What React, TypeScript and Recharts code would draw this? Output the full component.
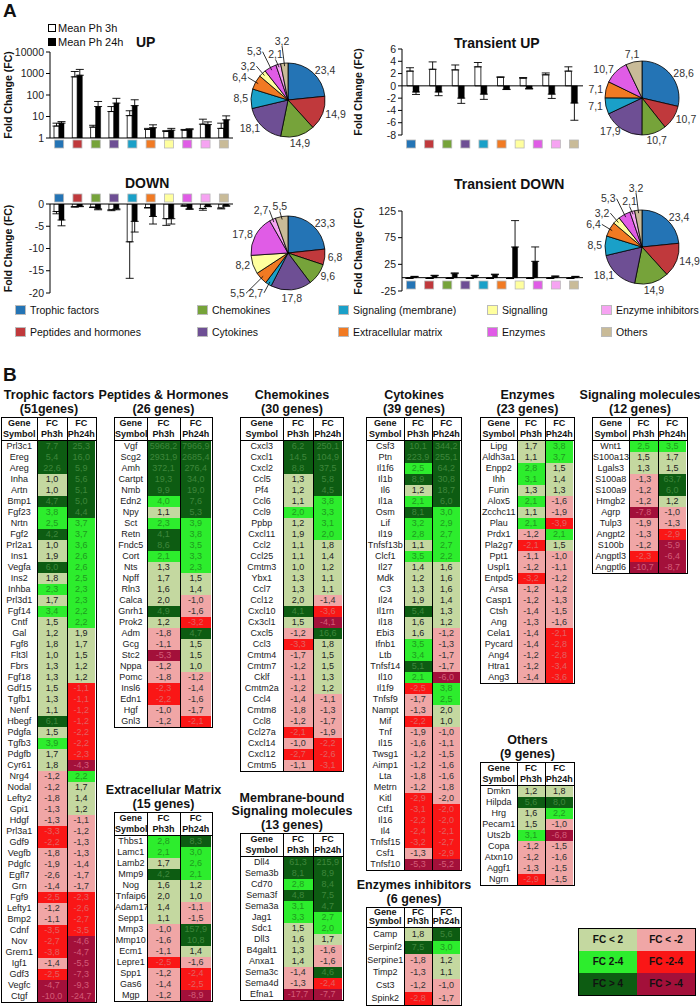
import React from 'react';
import { BarChart, Bar, XAxis, YAxis, ErrorBar, ReferenceLine, PieChart, Pie, Cell } from 'recharts';

const FONT = '"Liberation Sans", Arial, Helvetica, sans-serif';

// ---------- Panel A ----------
const groupNames = [
  'Trophic factors', 'Peptides and hormones', 'Chemokines', 'Cytokines', 'Signaling (membrane)',
  'Extracellular matrix', 'Signalling', 'Enzymes', 'Enzyme inhibitors', 'Others',
];
const groupColors = ['#2474b5', '#c0393c', '#76a33a', '#6e4f94', '#1aa0c8', '#f17a23', '#ffff9e', '#e05ce6', '#f6a3f2', '#c9bb98'];

// UP (log axis)
const upPh3h = [3.6, 700, 3.2, 17, 11, 2.5, 2.0, 2.3, 4.4, 2.8];
const upPh24h = [4.9, 830, 29, 42, 32, 3.0, 2.3, 2.45, 4.2, 7.0];
const upErr3h = [1.3, 540, 0.7, 12, 7.5, 0.3, 0.2, 0.2, 3.1, 2.1];
const upErr24h = [0.9, 720, 21, 28, 28, 1.1, 0.5, 0.25, 1.4, 3.7];
const upShare = [23.4, 14.9, 14.9, 18.1, 8.5, 6.4, 3.2, 5.3, 2.1, 3.2];

// Transient UP
const tuGroups = [0, 1, 2, 3, 4, 5, 7, 9];
const tuPh3h = [2.4, 2.7, 2.6, 3.1, 1.4, 1.25, 1.8, 2.4];
const tuPh24h = [-1.0, -1.0, -2.0, -1.35, -0.55, -0.45, -1.35, -2.8];
const tuErr3h = [0.55, 1.2, 0.8, 0.7, 0.05, 0.1, 0.3, 0.7];
const tuErr24h = [0.4, 0.6, 0.85, 0.85, 0.05, 0.05, 0.7, 2.8];
const tuShare = [28.6, 10.7, 10.7, 17.9, 7.1, 7.1, 10.7, 7.1];

// DOWN
const dnPh3h = [-1.7, -0.6, -0.7, -1.3, -8.5, -0.8, -3.3, -0.4, -1.0, -0.9];
const dnPh24h = [-3.6, -0.5, -1.1, -1.1, -3.9, -2.8, -3.3, -1.1, -0.5, -0.4];
const dnErr3h = [0.5, 0.1, 0.1, 0.2, 8.2, 0.1, 1.5, 0.1, 0.4, 0.2];
const dnErr24h = [1.3, 0.1, 0.2, 0.2, 2.4, 1.7, 1.2, 0.1, 0.1, 0.1];
const dnShare = [23.3, 6.8, 9.6, 17.8, 2.7, 5.5, 8.2, 17.8, 2.7, 5.5];

// Transient DOWN
const tdGroups = [0, 1, 2, 3, 4, 5, 6, 7, 8];
const tdPh3h = [-1.2, -1.5, -1.3, -1.2, -1.4, -1.6, -1.3, -1.2, -1.3];
const tdPh24h = [2.0, 3.7, 7.5, 3.7, 5.6, 57.5, 30.6, 2.5, 2.0];
const tdErr3h = [0, 0, 0, 0, 0, 0, 0, 0, 0];
const tdErr24h = [0.5, 0.8, 1.5, 0.8, 1.0, 49.5, 27, 0.6, 0.5];
const tdShare = [23.4, 14.9, 14.9, 18.1, 8.5, 6.4, 3.2, 5.3, 2.1, 3.2];

// ---------- Panel B ----------
const trophicGenes = ['Prl3c1', 'Ereg', 'Areg', 'Inha', 'Artn', 'Bmp1', 'Fgf23', 'Nrtn', 'Fgf2', 'Prl2a1', 'Ins1', 'Vegfa', 'Ins2', 'Inhba', 'Prl3d1', 'Fgf14', 'Cntf', 'Gal', 'Fgf8', 'Flt3l', 'Fbrs', 'Fgf18', 'Gdf15', 'Tgfb1', 'Nenf', 'Hbegf', 'Pdgfa', 'Tgfb3', 'Pdgfb', 'Cyr61', 'Nrg4', 'Nodal', 'Lefty2', 'Gpi1', 'Hdgf', 'Prl3a1', 'Gdf9', 'Vegfb', 'Pdgfc', 'Egfl7', 'Grn', 'Fgf9', 'Lefty1', 'Bmp2', 'Cdnf', 'Nov', 'Grem1', 'Igf1', 'Gdf3', 'Vegfc', 'Ctgf'];
const trophicPh3h = [7.7, 5.4, 22.6, 1.0, 1.0, 4.7, 3.8, 2.5, 4.2, 1.0, 1.9, 6.0, 1.8, 2.3, 1.7, 3.4, 1.5, 1.2, 1.8, 1.0, 1.3, 1.3, 1.5, 1.3, 1.1, 6.1, 1.5, 3.9, 1.7, 1.8, -1.2, -1.2, -1.8, -1.3, -1.3, -3.3, -2.2, -1.8, -1.9, -2.6, -1.4, -2.5, -1.2, -1.1, -3.5, -2.7, -3.8, -1.4, -2.5, -4.7, -10.0];
const trophicPh24h = [25.3, 16.0, 5.9, 5.6, 5.1, 5.0, 4.4, 3.7, 3.7, 3.6, 2.6, 2.6, 2.5, 2.3, 2.3, 2.2, 2.2, 1.9, 1.7, 1.5, 1.2, 1.2, -1.1, -1.1, -1.2, -1.2, -2.2, -2.2, -2.3, -4.3, 2.2, 1.7, 1.4, 1.2, -1.1, -1.2, -1.3, -1.3, -1.4, -1.7, -1.7, -2.3, -2.6, -2.7, -3.5, -4.6, -4.7, -5.5, -7.3, -9.3, -24.7];

const peptideGenes = ['Vgf', 'Scg2', 'Amh', 'Cartpt', 'Nmb', 'Edn2', 'Npy', 'Sct', 'Retn', 'Fndc5', 'Cort', 'Nts', 'Npff', 'Rln3', 'Calca', 'Gnrh1', 'Prok2', 'Adm', 'Gcg', 'Stc2', 'Nppa', 'Pomc', 'Insl6', 'Edn1', 'Hgf', 'Gnl3'];
const peptidePh3h = [5968.2, 2931.9, 372.1, 19.3, 9.9, 3.97, 1.1, 2.3, 4.1, 8.6, 2.1, 1.3, 1.7, 1.6, 1.97, 4.9, 1.2, -1.8, -1.1, -5.3, -1.2, -1.8, -2.3, -2.2, -1.0, -1.2];
const peptidePh24h = [7966.9, 2685.4, 276.4, 34.0, 19.0, 7.6, 5.3, 3.9, 3.8, 3.5, 3.3, 2.3, 1.5, 1.4, -1.0, -1.6, -3.2, 4.7, 1.5, 1.5, 1.0, -1.2, -1.4, -1.6, -1.7, -2.1];

const ecmGenes = ['Thbs1', 'Lamc1', 'Lamb2', 'Mmp9', 'Nog', 'Tnfaip6', 'Adam17', 'Sepp1', 'Mmp3', 'Mmp10', 'Ecm1', 'Lepre1', 'Spp1', 'Gas6', 'Mgp'];
const ecmPh3h = [2.8, 2.1, 1.7, 4.2, 1.6, 1.97, 1.4, 1.1, -1.0, -1.6, -1.1, -2.5, -1.2, -1.4, -1.2];
const ecmPh24h = [8.3, 3.0, 2.6, 2.1, 1.2, 1.0, -1.1, -1.5, 157.9, 10.8, 1.4, -1.6, -2.4, -2.5, -8.9];

const chemoGenes = ['Cxcl3', 'Cxcl1', 'Cxcl2', 'Ccl5', 'Pf4', 'Ccl6', 'Ccl9', 'Ppbp', 'Cxcl11', 'Ccl2', 'Ccl25', 'Cmtm3', 'Ybx1', 'Ccl7', 'Ccl12', 'Cxcl10', 'Cx3cl1', 'Cxcl5', 'Ccl3', 'Cmtm4', 'Cmtm7', 'Cklf', 'Cmtm2a', 'Ccl4', 'Cmtm8', 'Ccl8', 'Ccl27a', 'Cxcl14', 'Cxcl12', 'Cmtm5'];
const chemoPh3h = [6.2, 14.5, 8.8, 1.3, 1.2, 1.1, 2.0, 1.2, 1.9, 1.1, 1.1, 1.0, 1.3, 1.3, 1.97, 4.1, 1.5, -1.2, -3.3, -1.7, -1.2, -1.1, -1.2, -1.4, -1.8, -1.2, -2.1, -1.0, -2.7, -1.1];
const chemoPh24h = [250.1, 104.9, 37.5, 5.8, 4.5, 3.8, 3.3, 3.1, 2.0, 1.8, 1.4, 1.2, 1.1, 1.1, -1.4, -3.6, -4.1, 16.6, 1.8, 1.5, 1.5, 1.3, 1.2, -1.1, -1.3, -1.7, -1.9, -2.2, -2.6, -3.1];

const membraneGenes = ['Dll4', 'Sema3b', 'Cd70', 'Sema3f', 'Sema3a', 'Jag1', 'Sdc1', 'Dll3', 'B4galt1', 'Anxa1', 'Sema3c', 'Sema4d', 'Efna1'];
const membranePh3h = [61.3, 8.1, 2.8, 4.8, 3.1, 3.3, 1.5, 1.6, 1.3, 1.4, -1.4, -1.3, -17.7];
const membranePh24h = [215.9, 8.9, 8.4, 7.5, 4.7, 2.7, 2.0, 1.7, -1.6, -1.6, 4.6, -2.4, -7.7];

const cytoGenes = ['Csf3', 'Ptn', 'Il1f6', 'Il1b', 'Il6', 'Il1a', 'Osm', 'Lif', 'Il19', 'Tnfsf13b', 'Clcf1', 'Il27', 'Mdk', 'C3', 'Il24', 'Il1rn', 'Il18', 'Ebi3', 'Ifnb1', 'Ltb', 'Tnfsf14', 'Il10', 'Il1f9', 'Tnfsf9', 'Nampt', 'Mif', 'Tnf', 'Il15', 'Twsg1', 'Aimp1', 'Lta', 'Metrn', 'Kitl', 'Ctf1', 'Il16', 'Il4', 'Tnfsf15', 'Csf1', 'Tnfsf10'];
const cytoPh3h = [10.1, 223.9, 2.5, 8.9, 1.2, 2.1, 8.1, 3.2, 2.8, 1.1, 3.5, 1.4, 1.2, 1.3, 1.9, 5.4, 1.6, 1.6, 3.5, 3.4, 5.1, 2.1, -2.5, -1.7, -1.3, -2.2, -1.9, -1.6, -1.2, -1.2, -1.8, -1.2, -2.9, -3.1, -2.2, -2.4, -3.2, -1.3, -5.3];
const cytoPh24h = [344.2, 255.1, 64.2, 30.8, 18.7, 6.0, 3.0, 2.9, 2.7, 2.7, 2.2, 1.6, 1.6, 1.6, 1.4, 1.3, 1.2, -1.2, -1.3, -1.7, -1.7, -6.0, 3.8, 2.5, 1.97, 1.0, -1.0, -1.1, -1.5, -1.6, -1.6, -1.8, -1.97, -2.0, -2.0, -2.1, -2.7, -2.9, -5.2];

const inhibGenes = ['Camp', 'Serpinf2', 'Serpine1', 'Timp2', 'Cst3', 'Spink2'];
const inhibPh3h = [1.8, 7.5, -1.8, -1.3, -1.2, -2.8];
const inhibPh24h = [5.6, 3.0, 1.2, 1.1, -1.0, -1.7];

const enzymeGenes = ['Lipg', 'Aldh3a1', 'Enpp2', 'Ihh', 'Furin', 'Alox5', 'Zcchc11', 'Plau', 'Prdx1', 'Pla2g7', 'Ppt1', 'Uspl1', 'Entpd5', 'Arsa', 'Casp1', 'Ctsh', 'Ang', 'Cela1', 'Pycard', 'Ang4', 'Htra1', 'Ang3'];
const enzymePh3h = [1.7, 1.1, 2.8, 3.1, 1.3, 2.1, 1.1, 2.1, -1.2, -2.1, -1.1, -1.2, -3.2, -1.2, -1.2, -1.4, -1.3, -1.4, -1.4, -1.2, -1.2, -1.4];
const enzymePh24h = [3.8, 3.7, 1.5, 1.4, 1.3, -1.6, -1.9, -3.9, 2.1, 1.5, -1.0, -1.1, -1.2, -1.2, -1.3, -1.5, -1.6, -2.1, -2.8, -2.8, -3.4, -3.6];

const otherGenes = ['Dmkn', 'Hilpda', 'Hrg', 'Pecam1', 'Uts2b', 'Copa', 'Atxn10', 'Aggf1', 'Ngrn'];
const otherPh3h = [1.2, 5.6, 1.6, 1.5, 3.1, -1.2, -1.2, -1.3, -2.9];
const otherPh24h = [1.8, 8.0, 2.2, -1.0, -6.8, -1.5, -1.6, -1.5, -1.5];

const signalGenes = ['Wnt1', 'S100a13', 'Lgals3', 'S100a8', 'S100a9', 'Hmgb2', 'Agrp', 'Tulp3', 'Angpt2', 'S100b', 'Angptl3', 'Angptl6'];
const signalPh3h = [2.5, 1.5, 1.3, -1.3, -1.2, -1.2, -7.8, -1.9, -1.3, -1.2, -2.3, -10.7];
const signalPh24h = [3.5, 1.7, 1.5, 63.7, 6.0, 1.2, -1.0, -1.3, -2.9, -5.9, -6.4, -8.7];

type Bin = 'dg' | 'bg' | 'lg' | 'pk' | 'rd' | 'dr';
// cells whose published colour class differs from the printed value
const binOverrides: Record<string, Bin> = {
  'Egfl7:3': 'pk', 'Gdf15:24': 'rd', 'Tgfb1:24': 'rd', 'Nenf:24': 'rd', 'Hbegf:24': 'rd',
};
const fcLegend: [string, Bin][][] = [
  [['FC < 2', 'lg'], ['FC < -2', 'pk']],
  [['FC 2-4', 'bg'], ['FC -2-4', 'rd']],
  [['FC > 4', 'dg'], ['FC > -4', 'dr']],
];

const binStyle: Record<Bin, { bg: string; fg: string }> = {
  dg: { bg: '#0d5c12', fg: '#3f873c' },
  bg: { bg: '#2ded2d', fg: '#1f9a1f' },
  lg: { bg: '#c4d8a0', fg: '#222' },
  pk: { bg: '#f0a6a6', fg: '#333' },
  rd: { bg: '#fa1616', fg: '#e26262' },
  dr: { bg: '#a3103a', fg: '#d35c78' },
};

const binOf = (v: number): Bin => {
  if (v >= 4) return 'dg';
  if (v >= 2) return 'bg';
  if (v > 0) return 'lg';
  if (v > -2) return 'pk';
  if (v > -4) return 'rd';
  return 'dr';
};

const fmt = (v: number) => v.toFixed(1).replace('.', ',');

// sq spans 0..10 so the colour-square axis always covers the ten categories
const makeRows = (groups: number[], a: number[], b: number[], ea: number[], eb: number[]) =>
  groups.map((g, i) => ({
    cat: groupNames[g],
    sq: (i * 10) / (groups.length - 1),
    ph3: a[i],
    ph24: b[i],
    e3: a[i] >= 0 ? [0, ea[i]] : [ea[i], 0],
    e24: b[i] >= 0 ? [0, eb[i]] : [eb[i], 0],
  }));

const all10 = [0, 1, 2, 3, 4, 5, 6, 7, 8, 9];
const sqTicks = all10.map((i) => i + 0.5);

const SquareTick = (props: any) => {
  const { x, y, payload, shift } = props;
  const i = Math.floor(payload.value);
  return <rect x={x - 4.5} y={y + shift} width={9} height={8} fill={groupColors[i]} stroke="#b8b8b8" strokeWidth={0.8} />;
};

const tickStyle = { fontSize: 10.5, fill: '#222', fontFamily: FONT };

const FoldChart = (p: any) => (
  <div style={{ position: 'absolute', left: p.left, top: p.top }}>
    <BarChart width={p.width} height={p.height} data={p.rows} margin={p.margin} barGap={0} barSize={p.barSize}>
      <XAxis xAxisId="cat" dataKey="cat" hide height={0} orientation={p.sqSide === 'top' ? 'bottom' : 'top'} />
      <XAxis
        xAxisId="sq"
        dataKey="sq"
        type="number"
        domain={[0, 10]}
        allowDataOverflow
        ticks={sqTicks}
        interval={0}
        orientation={p.sqSide}
        height={12}
        axisLine={p.zeroLine ? false : { stroke: '#000' }}
        tickLine={false}
        tickSize={0}
        tickMargin={0}
        tick={(t: any) => <SquareTick {...t} shift={p.sqShift} />}
      />
      <YAxis
        width={p.yWidth}
        scale={p.scale}
        domain={p.domain}
        ticks={p.ticks}
        allowDataOverflow
        interval={0}
        axisLine={{ stroke: '#000' }}
        tickLine={{ stroke: '#000' }}
        tickSize={4}
        tick={tickStyle}
        label={{
          value: 'Fold Change (FC)',
          angle: -90,
          position: 'insideLeft',
          offset: 8,
          style: { textAnchor: 'middle', fontWeight: 'bold', fontSize: 10.5, fill: '#111', fontFamily: FONT },
        }}
      />
      {p.zeroLine && <ReferenceLine xAxisId="cat" y={0} stroke="#000" strokeWidth={1} />}
      <Bar xAxisId="cat" dataKey="ph3" fill="#fff" stroke="#000" strokeWidth={0.8} isAnimationActive={false}>
        <ErrorBar dataKey="e3" direction="y" width={4} stroke="#000" strokeWidth={0.9} />
      </Bar>
      <Bar xAxisId="cat" dataKey="ph24" fill="#000" stroke="#000" strokeWidth={0.5} isAnimationActive={false}>
        <ErrorBar dataKey="e24" direction="y" width={4} stroke="#000" strokeWidth={0.9} />
      </Bar>
    </BarChart>
  </div>
);

type Box = { x0: number; x1: number; y0: number; y1: number };

const makePieLabel = (placed: Box[]) => (p: any) => {
  const { cx, cy, midAngle, outerRadius, value } = p;
  const a = (-midAngle * Math.PI) / 180;
  const c = Math.cos(a);
  const s = Math.sin(a);
  const small = value < 6.5;
  const anchor = Math.abs(c) < 0.35 ? 'middle' : c > 0 ? 'start' : 'end';
  const tw = fmt(value).length * 5.4;
  const boxAt = (r: number): Box => {
    const x = cx + r * c;
    const y = cy + r * s;
    const x0 = anchor === 'start' ? x : anchor === 'end' ? x - tw : x - tw / 2;
    return { x0, x1: x0 + tw, y0: y - 5.5, y1: y + 5.5 };
  };
  const hit = (b: Box) => placed.some((q) => b.x0 < q.x1 && b.x1 > q.x0 && b.y0 < q.y1 && b.y1 > q.y0);
  let r = outerRadius + (anchor === 'middle' ? 8 : 3);
  if (small) {
    r = outerRadius + 10;
    while (hit(boxAt(r)) && r < outerRadius + 40) r += 4;
  }
  placed.push(boxAt(r));
  const x = cx + r * c;
  const y = cy + r * s;
  const lx = anchor === 'end' ? x + 1 : anchor === 'start' ? x - 1 : x;
  const ly = anchor === 'middle' ? y + (s < 0 ? 5 : -5) : y;
  return (
    <g>
      {small && (
        <line
          x1={cx + (outerRadius - 3) * c}
          y1={cy + (outerRadius - 3) * s}
          x2={lx}
          y2={ly}
          stroke="#000"
          strokeWidth={0.8}
        />
      )}
      <text x={x} y={y} dy="0.35em" textAnchor={anchor} fontSize={10.5} fill="#333" fontFamily={FONT}>
        {fmt(value)}
      </text>
    </g>
  );
};

const SharePie = ({ left, top, width, groups, shares }: any) => {
  const data = groups.map((g: number, i: number) => ({ name: groupNames[g], value: shares[i], g }));
  const placed: Box[] = [];
  return (
    <div style={{ position: 'absolute', left, top }}>
      <PieChart width={width} height={140} margin={{ top: 0, right: 0, bottom: 0, left: 0 }}>
        <Pie
          data={data}
          dataKey="value"
          cx={70}
          cy={70}
          outerRadius={37}
          startAngle={90}
          endAngle={-270}
          stroke="#000"
          strokeWidth={0.8}
          label={makePieLabel(placed)}
          labelLine={false}
          isAnimationActive={false}
        >
          {data.map((d: any) => (
            <Cell key={d.name} fill={groupColors[d.g]} />
          ))}
        </Pie>
      </PieChart>
    </div>
  );
};

const HeatTable = ({ title, genes, ph3, ph24, left, top, cols, rowH, headH = 22 }: any) => {
  const w = cols[0] + cols[1] + cols[2];
  const cellBase: React.CSSProperties = {
    boxSizing: 'border-box',
    textAlign: 'center',
    whiteSpace: 'nowrap',
    overflow: 'hidden',
  };
  const bin = (g: string, k: string, v: number) => binOverrides[`${g}:${k}`] || binOf(v);
  return (
    <>
      <div
        style={{
          position: 'absolute',
          left: left + w / 2 - 80,
          width: 160,
          top: top - title.length * 13.5 - 1,
          textAlign: 'center',
          fontWeight: 'bold',
          fontSize: 12.5,
          lineHeight: '13.5px',
        }}
      >
        {title.map((t: string) => (
          <div key={t}>{t}</div>
        ))}
      </div>
      <div
        style={{
          position: 'absolute',
          left,
          top,
          width: w,
          boxSizing: 'border-box',
          border: '1.5px solid #000',
          fontSize: 9,
          background: '#fff',
        }}
      >
        <div style={{ display: 'flex', height: headH, borderBottom: '1px solid #000', fontWeight: 'bold', fontSize: 9, lineHeight: `${headH / 2 - 0.5}px` }}>
          {[['Gene', 'Symbol'], ['FC', 'Ph3h'], ['FC', 'Ph24h']].map((h, j) => (
            <div
              key={j}
              style={{
                ...cellBase,
                width: cols[j] - (j === 0 ? 1.5 : j === 2 ? 1.5 : 0),
                borderRight: j < 2 ? '1px solid #000' : 'none',
              }}
            >
              <div>{h[0]}</div>
              <div>{h[1]}</div>
            </div>
          ))}
        </div>
        {genes.map((g: string, i: number) => {
          const b3 = binStyle[bin(g, '3', ph3[i])];
          const b24 = binStyle[bin(g, '24', ph24[i])];
          return (
            <div key={g} style={{ display: 'flex', height: rowH, lineHeight: `${rowH}px` }}>
              <div style={{ ...cellBase, width: cols[0] - 1.5, borderRight: '1px solid #000', color: '#222' }}>{g}</div>
              <div style={{ ...cellBase, width: cols[1], borderRight: '1px solid #000', background: b3.bg, color: b3.fg }}>
                {fmt(ph3[i])}
              </div>
              <div style={{ ...cellBase, width: cols[2] - 1.5, background: b24.bg, color: b24.fg }}>{fmt(ph24[i])}</div>
            </div>
          );
        })}
      </div>
    </>
  );
};

const Abs = ({ left, top, children, style }: any) => (
  <div style={{ position: 'absolute', left, top, whiteSpace: 'nowrap', ...style }}>{children}</div>
);

export default function App() {
  const rowH = 11;
  const legendCols = [15, 197, 338, 487, 601];
  return (
    <div
      style={{
        position: 'absolute',
        left: 0,
        top: 0,
        width: 700,
        height: 1007,
        overflow: 'hidden',
        background: '#fff',
        fontFamily: FONT,
        color: '#111',
      }}
    >
      <Abs left={3} top={0} style={{ fontWeight: 'bold', fontSize: 19 }}>A</Abs>

      {/* UP */}
      <FoldChart
        left={0}
        top={0}
        width={240}
        height={150}
        margin={{ top: 52, right: 7, bottom: 0, left: 0 }}
        yWidth={50}
        rows={makeRows(all10, upPh3h, upPh24h, upErr3h, upErr24h)}
        scale="log"
        domain={[1, 10000]}
        ticks={[1, 10, 100, 1000, 10000]}
        sqSide="bottom"
        sqShift={2}
        barSize={5}
      />
      <Abs left={48} top={21} style={{ fontSize: 11 }}>
        <div style={{ display: 'flex', alignItems: 'center', height: 14 }}>
          <span style={{ width: 6, height: 6, border: '1px solid #000', background: '#fff', marginRight: 2 }} />
          Mean Ph 3h
        </div>
        <div style={{ display: 'flex', alignItems: 'center', height: 14 }}>
          <span style={{ width: 6, height: 6, border: '1px solid #000', background: '#000', marginRight: 2 }} />
          Mean Ph 24h
        </div>
      </Abs>
      <Abs left={136} top={34} style={{ fontWeight: 'bold', fontSize: 14 }}>UP</Abs>
      <SharePie left={218} top={30} width={140} groups={all10} shares={upShare} />

      {/* Transient UP */}
      <FoldChart
        left={350}
        top={0}
        width={240}
        height={150}
        margin={{ top: 49, right: 7, bottom: 3, left: 0 }}
        yWidth={52}
        rows={makeRows(tuGroups, tuPh3h, tuPh24h, tuErr3h, tuErr24h)}
        scale="linear"
        domain={[-8, 6]}
        ticks={[-8, -6, -4, -2, 0, 2, 4, 6]}
        sqSide="bottom"
        sqShift={5}
        zeroLine
        barSize={6}
      />
      <Abs left={454} top={35} style={{ fontWeight: 'bold', fontSize: 14 }}>Transient UP</Abs>
      <SharePie left={572} top={28} width={128} groups={tuGroups} shares={tuShare} />

      {/* DOWN */}
      <FoldChart
        left={0}
        top={145}
        width={240}
        height={160}
        margin={{ top: 47, right: 7, bottom: 12, left: 0 }}
        yWidth={50}
        rows={makeRows(all10, dnPh3h, dnPh24h, dnErr3h, dnErr24h)}
        scale="linear"
        domain={[-20, 0]}
        ticks={[-20, -15, -10, -5, 0]}
        sqSide="top"
        sqShift={-10}
        barSize={5}
      />
      <Abs left={125} top={175} style={{ fontWeight: 'bold', fontSize: 14 }}>DOWN</Abs>
      <SharePie left={218} top={183} width={140} groups={all10} shares={dnShare} />

      {/* Transient DOWN */}
      <FoldChart
        left={350}
        top={145}
        width={240}
        height={160}
        margin={{ top: 66, right: 7, bottom: 2, left: 0 }}
        yWidth={52}
        rows={makeRows(tdGroups, tdPh3h, tdPh24h, tdErr3h, tdErr24h)}
        scale="linear"
        domain={[-25, 125]}
        ticks={[-25, 25, 75, 125]}
        sqSide="bottom"
        sqShift={-10}
        zeroLine
        barSize={5}
      />
      <Abs left={454} top={176} style={{ fontWeight: 'bold', fontSize: 14 }}>Transient DOWN</Abs>
      <SharePie left={572} top={177} width={128} groups={all10} shares={tdShare} />

      {/* category legend */}
      {legendCols.map((x, c) =>
        [0, 1].map((r) => {
          const g = c * 2 + r;
          return (
            <Abs key={g} left={x} top={303 + r * 22} style={{ fontSize: 10.5, display: 'flex', alignItems: 'center', height: 13 }}>
              <span style={{ width: 9, height: 8, background: groupColors[g], border: '1px solid #bbb', marginRight: 4, display: 'inline-block' }} />
              {groupNames[g]}
            </Abs>
          );
        })
      )}

      <Abs left={3} top={364} style={{ fontWeight: 'bold', fontSize: 19 }}>B</Abs>

      <HeatTable title={['Trophic factors', '(51genes)']} genes={trophicGenes} ph3={trophicPh3h} ph24={trophicPh24h} left={1} top={417} cols={[37, 30, 29]} rowH={rowH} />
      <HeatTable title={['Peptides & Hormones', '(26 genes)']} genes={peptideGenes} ph3={peptidePh3h} ph24={peptidePh24h} left={114} top={417} cols={[34, 33, 32]} rowH={rowH} />
      <HeatTable title={['Extracellular Matrix', '(15 genes)']} genes={ecmGenes} ph3={ecmPh3h} ph24={ecmPh24h} left={114} top={812} cols={[34, 33, 32]} rowH={rowH} />
      <HeatTable title={['Chemokines', '(30 genes)']} genes={chemoGenes} ph3={chemoPh3h} ph24={chemoPh24h} left={240} top={417} cols={[44, 30, 30]} rowH={rowH} />
      <HeatTable title={['Membrane-bound', 'Signaling molecules', '(13 genes)']} genes={membraneGenes} ph3={membranePh3h} ph24={membranePh24h} left={240} top={833} cols={[44, 30, 30]} rowH={rowH} />
      <HeatTable title={['Cytokines', '(39 genes)']} genes={cytoGenes} ph3={cytoPh3h} ph24={cytoPh24h} left={366} top={417} cols={[39, 28, 29]} rowH={rowH} />
      <HeatTable title={['Enzymes inhibitors', '(6 genes)']} genes={inhibGenes} ph3={inhibPh3h} ph24={inhibPh24h} left={366} top={907} cols={[39, 28, 29]} rowH={12.8} headH={19} />
      <HeatTable title={['Enzymes', '(23 genes)']} genes={enzymeGenes} ph3={enzymePh3h} ph24={enzymePh24h} left={480} top={417} cols={[38, 28, 29]} rowH={rowH} />
      <HeatTable title={['Others', '(9 genes)']} genes={otherGenes} ph3={otherPh3h} ph24={otherPh24h} left={480} top={762} cols={[38, 28, 29]} rowH={rowH} />
      <HeatTable title={['Signaling molecules', '(12 genes)']} genes={signalGenes} ph3={signalPh3h} ph24={signalPh24h} left={592} top={417} cols={[38, 29, 29]} rowH={rowH} />

      {/* FC colour key */}
      <div style={{ position: 'absolute', left: 578, top: 928, width: 118, border: '1px solid #000', boxSizing: 'border-box' }}>
        {fcLegend.map((row, i) => (
          <div key={i} style={{ display: 'flex', height: 22 }}>
            {row.map(([label, b]) => (
              <div
                key={label}
                style={{
                  width: '50%',
                  background: binStyle[b].bg,
                  color: '#111',
                  fontWeight: 'bold',
                  fontSize: 10,
                  lineHeight: '22px',
                  textAlign: 'center',
                }}
              >
                {label}
              </div>
            ))}
          </div>
        ))}
      </div>
    </div>
  );
}
